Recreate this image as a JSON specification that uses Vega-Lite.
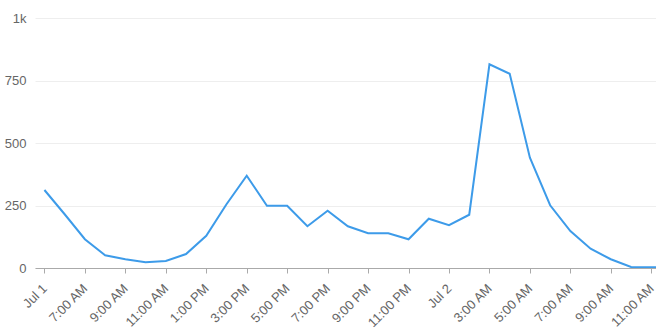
{
  "$schema": "https://vega.github.io/schema/vega-lite/v6.json",
  "width": 621,
  "height": 250,
  "autosize": {"type": "none"},
  "padding": {"left": 35, "top": 18, "right": 0, "bottom": 61},
  "config": {"view": {"stroke": null}, "font": "Liberation Sans"},
  "data": {
    "values": [
      {"time": "2024-07-01T05:00:00Z", "count": 312},
      {"time": "2024-07-01T06:00:00Z", "count": 215},
      {"time": "2024-07-01T07:00:00Z", "count": 115},
      {"time": "2024-07-01T08:00:00Z", "count": 51},
      {"time": "2024-07-01T09:00:00Z", "count": 35},
      {"time": "2024-07-01T10:00:00Z", "count": 23},
      {"time": "2024-07-01T11:00:00Z", "count": 28},
      {"time": "2024-07-01T12:00:00Z", "count": 56},
      {"time": "2024-07-01T13:00:00Z", "count": 129},
      {"time": "2024-07-01T14:00:00Z", "count": 255},
      {"time": "2024-07-01T15:00:00Z", "count": 369},
      {"time": "2024-07-01T16:00:00Z", "count": 249},
      {"time": "2024-07-01T17:00:00Z", "count": 249},
      {"time": "2024-07-01T18:00:00Z", "count": 167},
      {"time": "2024-07-01T19:00:00Z", "count": 229},
      {"time": "2024-07-01T20:00:00Z", "count": 167},
      {"time": "2024-07-01T21:00:00Z", "count": 139},
      {"time": "2024-07-01T22:00:00Z", "count": 139},
      {"time": "2024-07-01T23:00:00Z", "count": 115},
      {"time": "2024-07-02T00:00:00Z", "count": 197},
      {"time": "2024-07-02T01:00:00Z", "count": 171},
      {"time": "2024-07-02T02:00:00Z", "count": 213},
      {"time": "2024-07-02T03:00:00Z", "count": 815},
      {"time": "2024-07-02T04:00:00Z", "count": 777},
      {"time": "2024-07-02T05:00:00Z", "count": 441},
      {"time": "2024-07-02T06:00:00Z", "count": 251},
      {"time": "2024-07-02T07:00:00Z", "count": 148},
      {"time": "2024-07-02T08:00:00Z", "count": 77},
      {"time": "2024-07-02T09:00:00Z", "count": 35},
      {"time": "2024-07-02T10:00:00Z", "count": 4},
      {"time": "2024-07-02T11:00:00Z", "count": 3},
      {"time": "2024-07-02T12:00:00Z", "count": 3}
    ]
  },
  "mark": {"type": "line", "color": "#3d9be9", "strokeWidth": 2, "clip": true},
  "encoding": {
    "x": {
      "field": "time",
      "type": "temporal",
      "scale": {
        "type": "utc",
        "domain": [
          {"year": 2024, "month": 7, "date": 1, "hours": 4, "minutes": 32, "utc": true},
          {"year": 2024, "month": 7, "date": 2, "hours": 11, "minutes": 14, "utc": true}
        ]
      },
      "axis": {
        "title": null,
        "grid": false,
        "values": [
          {"year": 2024, "month": 7, "date": 1, "hours": 5, "utc": true},
          {"year": 2024, "month": 7, "date": 1, "hours": 7, "utc": true},
          {"year": 2024, "month": 7, "date": 1, "hours": 9, "utc": true},
          {"year": 2024, "month": 7, "date": 1, "hours": 11, "utc": true},
          {"year": 2024, "month": 7, "date": 1, "hours": 13, "utc": true},
          {"year": 2024, "month": 7, "date": 1, "hours": 15, "utc": true},
          {"year": 2024, "month": 7, "date": 1, "hours": 17, "utc": true},
          {"year": 2024, "month": 7, "date": 1, "hours": 19, "utc": true},
          {"year": 2024, "month": 7, "date": 1, "hours": 21, "utc": true},
          {"year": 2024, "month": 7, "date": 1, "hours": 23, "utc": true},
          {"year": 2024, "month": 7, "date": 2, "hours": 1, "utc": true},
          {"year": 2024, "month": 7, "date": 2, "hours": 3, "utc": true},
          {"year": 2024, "month": 7, "date": 2, "hours": 5, "utc": true},
          {"year": 2024, "month": 7, "date": 2, "hours": 7, "utc": true},
          {"year": 2024, "month": 7, "date": 2, "hours": 9, "utc": true},
          {"year": 2024, "month": 7, "date": 2, "hours": 11, "utc": true}
        ],
        "labelExpr": "utchours(datum.value) == 5 && utcdate(datum.value) == 1 ? 'Jul 1' : (utchours(datum.value) == 1 ? 'Jul 2' : utcFormat(datum.value, '%-I:%M %p'))",
        "labelAngle": -45,
        "labelAlign": "right",
        "labelBaseline": "middle",
        "labelOverlap": false,
        "labelBound": false,
        "labelFlush": false,
        "labelColor": "#666666",
        "labelFontSize": 13,
        "labelPadding": 13,
        "domainColor": "#aaaaaa",
        "tickColor": "#aaaaaa",
        "tickSize": 5
      }
    },
    "y": {
      "field": "count",
      "type": "quantitative",
      "scale": {"domain": [0, 1000], "nice": false},
      "axis": {
        "title": null,
        "values": [0, 250, 500, 750, 1000],
        "labelExpr": "datum.value == 1000 ? '1k' : format(datum.value, 'd')",
        "domain": false,
        "ticks": false,
        "gridColor": "#eeeeee",
        "labelPadding": 9,
        "labelColor": "#666666",
        "labelFontSize": 13
      }
    }
  }
}
